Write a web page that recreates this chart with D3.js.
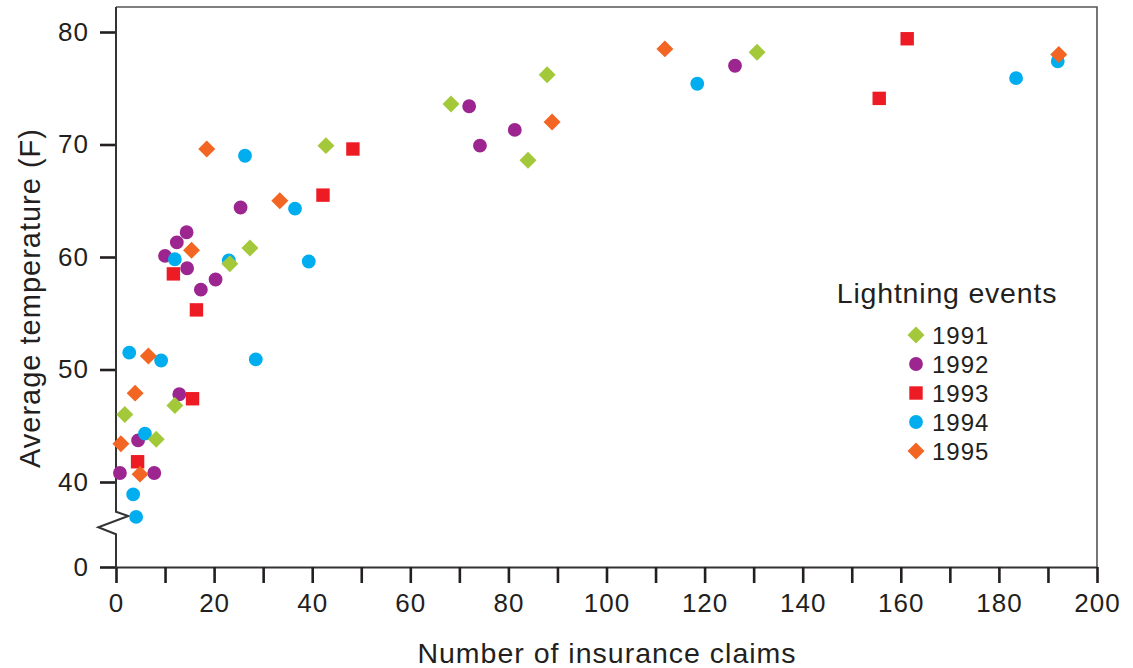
<!DOCTYPE html>
<html>
<head>
<meta charset="utf-8">
<script src="https://cdn.jsdelivr.net/npm/d3@7"></script>
<style>
  html, body { margin: 0; padding: 0; background: #fff; }
  svg { display: block; }
  text { font-family: "Liberation Sans", Arial, Helvetica, sans-serif; fill: #231f20; }
</style>
</head>
<body>
<svg id="chart" width="1133" height="668"></svg>
<script>
// Lightning events: number of insurance claims vs. average temperature (F)
const claims1991 = [1.8, 8.2, 12.0, 23.2, 27.3, 42.8, 68.3, 87.9, 84.0, 130.7];
const temps1991  = [46.0, 43.8, 46.8, 59.4, 60.8, 69.9, 73.6, 76.2, 68.6, 78.2];

const claims1992 = [0.8, 7.8, 4.5, 12.9, 14.4, 12.4, 10.0, 14.5, 20.3, 17.3, 25.4, 72.0, 74.2, 81.3, 126.2];
const temps1992  = [40.8, 40.8, 43.7, 47.8, 62.2, 61.3, 60.1, 59.0, 58.0, 57.1, 64.4, 73.4, 69.9, 71.3, 77.0];

const claims1993 = [4.4, 15.6, 11.7, 16.4, 42.2, 48.3, 155.6, 161.3];
const temps1993  = [41.8, 47.4, 58.5, 55.3, 65.5, 69.6, 74.1, 79.4];

const claims1994 = [2.7, 9.2, 28.5, 5.9, 3.5, 4.1, 12.0, 23.0, 26.3, 36.5, 39.3, 118.5, 183.5, 192.0];
const temps1994  = [51.5, 50.8, 50.9, 44.3, 38.9, 36.9, 59.8, 59.7, 69.0, 64.3, 59.6, 75.4, 75.9, 77.4];

const claims1995 = [6.6, 3.9, 1.0, 4.9, 15.4, 18.5, 33.4, 88.9, 111.9, 192.2];
const temps1995  = [51.2, 47.9, 43.4, 40.7, 60.6, 69.6, 65.0, 72.0, 78.5, 78.0];

const years = ["1991", "1992", "1993", "1994", "1995"];
const xTicks = d3.range(0, 201, 10);
const xTickLabels = [0, 20, 40, 60, 80, 100, 120, 140, 160, 180, 200];
const yTicks = [0, 40, 50, 60, 70, 80];

// marker style per year
const styles = {
  "1991": { color: "#a3c93a", shape: "diamond" },
  "1992": { color: "#9c2590", shape: "circle" },
  "1993": { color: "#ed1c24", shape: "square" },
  "1994": { color: "#00aeef", shape: "circle" },
  "1995": { color: "#f26522", shape: "diamond" }
};

const seriesData = {
  "1991": claims1991.map((c, i) => ({ x: c, y: temps1991[i] })),
  "1992": claims1992.map((c, i) => ({ x: c, y: temps1992[i] })),
  "1993": claims1993.map((c, i) => ({ x: c, y: temps1993[i] })),
  "1994": claims1994.map((c, i) => ({ x: c, y: temps1994[i] })),
  "1995": claims1995.map((c, i) => ({ x: c, y: temps1995[i] }))
};
const drawOrder = ["1992", "1993", "1994", "1991", "1995"];

const svg = d3.select("#chart");
const plotLeft = 116, plotRight = 1097, plotTop = 7, plotBottom = 567;

const x = d3.scaleLinear().domain([0, 200]).range([plotLeft, plotRight]);
// broken axis: 0 sits at the bottom, the 35–80 range is linear
const y = d3.scaleLinear().domain([0, 35, 80]).range([plotBottom, 538.25, 32]);

function markerPath(shape) {
  if (shape === "circle") return d3.symbol(d3.symbolCircle, 150)();
  if (shape === "square") return d3.symbol(d3.symbolSquare, 180)();
  return d3.symbol(d3.symbolSquare, 144)();
}
function markerTransform(shape, px, py) {
  return shape === "diamond" ? `translate(${px},${py}) rotate(45)` : `translate(${px},${py})`;
}

// frame (top and right)
svg.append("path")
  .attr("d", `M${plotLeft},${plotTop}H${plotRight}V${plotBottom}`)
  .attr("fill", "none").attr("stroke", "#555").attr("stroke-width", 1.6);

// x axis
const xAxis = d3.axisBottom(x).tickValues(xTicks).tickSize(16).tickSizeOuter(0)
  .tickFormat(d => xTickLabels.includes(d) ? d : "");
const gx = svg.append("g").attr("transform", `translate(0,${plotBottom})`).call(xAxis);
gx.select(".domain").attr("stroke", "#333").attr("stroke-width", 2);
gx.selectAll(".tick line").attr("stroke", "#231f20").attr("stroke-width", 2.6);
gx.selectAll(".tick text").attr("font-size", 26).attr("dy", "0.71em").attr("y", 27)
  .style("letter-spacing", "1px")
  .attr("font-family", "Liberation Sans, Arial, sans-serif").attr("fill", "#231f20");

// y axis with break
const yAxis = d3.axisLeft(y).tickValues(yTicks).tickSize(16).tickSizeOuter(0);
const gy = svg.append("g").attr("transform", `translate(${plotLeft},0)`).call(yAxis);
gy.select(".domain").remove();
gy.selectAll(".tick line").attr("stroke", "#231f20").attr("stroke-width", 2.6);
gy.selectAll(".tick text").attr("font-size", 26).attr("x", -27)
  .style("letter-spacing", "1px")
  .attr("font-family", "Liberation Sans, Arial, sans-serif").attr("fill", "#231f20");

svg.append("path")
  .attr("d", `M${plotLeft},${plotTop}V511.7L128.3,516L98.3,527.3L${plotLeft},534.3V${plotBottom + 1}`)
  .attr("fill", "none").attr("stroke", "#333").attr("stroke-width", 2);

// points
drawOrder.forEach(yr => {
  const st = styles[yr];
  svg.append("g").selectAll("path").data(seriesData[yr]).join("path")
    .attr("d", markerPath(st.shape))
    .attr("transform", d => markerTransform(st.shape, x(d.x), y(d.y)))
    .attr("fill", st.color);
});

// axis titles
svg.append("text")
  .attr("x", 607).attr("y", 663)
  .attr("text-anchor", "middle").attr("font-size", 28.5).style("letter-spacing", "1px")
  .text("Number of insurance claims");

svg.append("text")
  .attr("transform", "translate(40,298) rotate(-90)")
  .attr("text-anchor", "middle").attr("font-size", 29).style("letter-spacing", "1px")
  .text("Average temperature (F)");

// legend
const legend = svg.append("g");
legend.append("text")
  .attr("x", 947).attr("y", 303).attr("text-anchor", "middle")
  .attr("font-size", 28.5).style("letter-spacing", "0.8px")
  .text("Lightning events");
const rowY = d3.scalePoint().domain(years).range([335, 451]);
years.forEach(yr => {
  const st = styles[yr];
  legend.append("path")
    .attr("d", markerPath(st.shape))
    .attr("transform", markerTransform(st.shape, 916, rowY(yr)))
    .attr("fill", st.color);
  legend.append("text")
    .attr("x", 932).attr("y", rowY(yr)).attr("dy", "0.36em")
    .attr("font-size", 24).style("letter-spacing", "1px")
    .text(yr);
});
</script>
</body>
</html>
